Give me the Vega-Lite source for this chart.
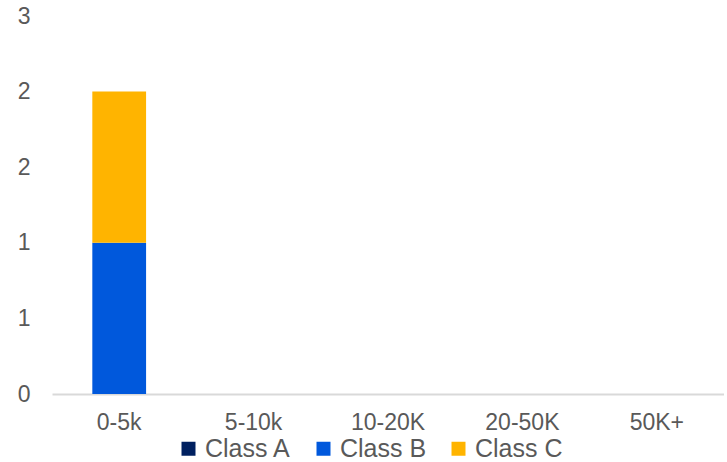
{
  "$schema": "https://vega.github.io/schema/vega-lite/v6.json",
  "width": 672,
  "height": 378,
  "padding": {"left": 17, "top": 5, "right": 0, "bottom": 0},
  "autosize": {"type": "pad"},
  "background": "white",
  "data": {
    "values": [
      {"range": "0-5k", "cls": "Class A", "count": 0},
      {"range": "0-5k", "cls": "Class B", "count": 1},
      {"range": "0-5k", "cls": "Class C", "count": 1},
      {"range": "5-10k", "cls": "Class A", "count": 0},
      {"range": "5-10k", "cls": "Class B", "count": 0},
      {"range": "5-10k", "cls": "Class C", "count": 0},
      {"range": "10-20K", "cls": "Class A", "count": 0},
      {"range": "10-20K", "cls": "Class B", "count": 0},
      {"range": "10-20K", "cls": "Class C", "count": 0},
      {"range": "20-50K", "cls": "Class A", "count": 0},
      {"range": "20-50K", "cls": "Class B", "count": 0},
      {"range": "20-50K", "cls": "Class C", "count": 0},
      {"range": "50K+", "cls": "Class A", "count": 0},
      {"range": "50K+", "cls": "Class B", "count": 0},
      {"range": "50K+", "cls": "Class C", "count": 0}
    ]
  },
  "mark": {"type": "bar"},
  "encoding": {
    "x": {
      "field": "range",
      "type": "nominal",
      "sort": ["0-5k", "5-10k", "10-20K", "20-50K", "50K+"],
      "scale": {"paddingInner": 0.6, "paddingOuter": 0.3},
      "axis": {
        "title": null,
        "labelAngle": 0,
        "ticks": false,
        "domainColor": "#d9d9d9",
        "domainWidth": 2,
        "labelFont": "Liberation Sans",
        "labelFontSize": 23,
        "labelColor": "#595959",
        "labelPadding": 17
      }
    },
    "y": {
      "field": "count",
      "type": "quantitative",
      "stack": "zero",
      "scale": {"domain": [0, 2.5], "nice": false},
      "axis": {
        "title": null,
        "values": [0, 0.5, 1, 1.5, 2, 2.5],
        "labelExpr": "round(datum.value)",
        "grid": false,
        "domain": false,
        "ticks": false,
        "labelFont": "Liberation Sans",
        "labelFontSize": 23,
        "labelColor": "#595959",
        "labelPadding": 22
      }
    },
    "color": {
      "field": "cls",
      "type": "nominal",
      "scale": {
        "domain": ["Class A", "Class B", "Class C"],
        "range": ["#002060", "#0058DC", "#FFB400"]
      },
      "legend": {
        "title": null,
        "orient": "none",
        "legendX": 124,
        "legendY": 420,
        "direction": "horizontal",
        "symbolType": "square",
        "symbolSize": 196,
        "symbolStrokeWidth": 0,
        "labelFont": "Liberation Sans",
        "labelFontSize": 25,
        "labelColor": "#595959",
        "labelOffset": 4,
        "columnPadding": 19
      }
    },
    "order": {"field": "cls", "sort": "ascending"}
  },
  "config": {"view": {"stroke": null}}
}
